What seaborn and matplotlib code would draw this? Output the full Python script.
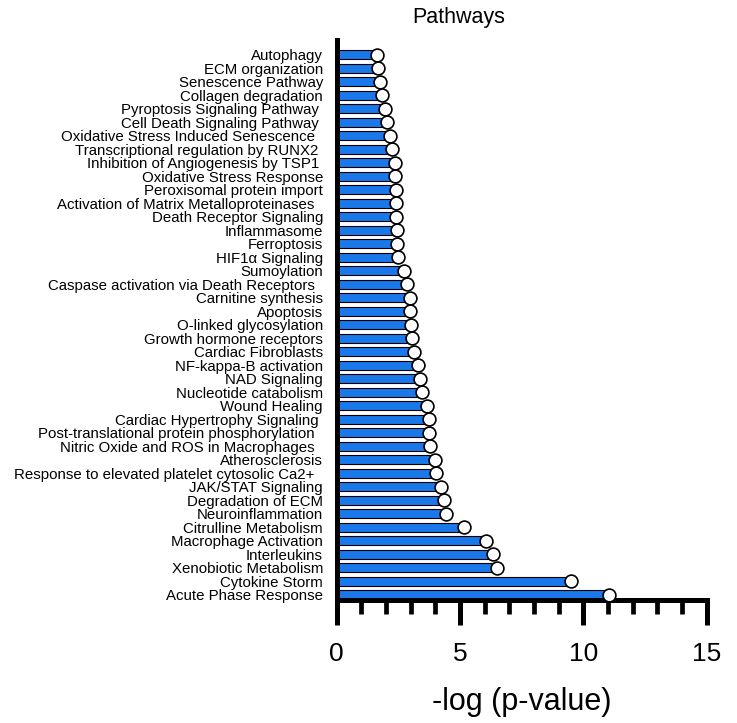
import pandas as pd
import matplotlib.pyplot as plt
from matplotlib.ticker import MultipleLocator
import seaborn as sns

# Pathways (oben nach unten) und -log(p-Werte)
pathways = [
    'Autophagy', 'ECM organization', 'Senescence Pathway', 'Collagen degradation',
    'Pyroptosis Signaling Pathway ', 'Cell Death Signaling Pathway ',
    'Oxidative Stress Induced Senescence  ', 'Transcriptional regulation by RUNX2 ',
    'Inhibition of Angiogenesis by TSP1 ', 'Oxidative Stress Response',
    'Peroxisomal protein import', 'Activation of Matrix Metalloproteinases  ',
    'Death Receptor Signaling', 'Inflammasome', 'Ferroptosis', 'HIF1α Signaling',
    'Sumoylation', 'Caspase activation via Death Receptors  ', 'Carnitine synthesis',
    'Apoptosis', 'O-linked glycosylation', 'Growth hormone receptors',
    'Cardiac Fibroblasts', 'NF-kappa-B activation', 'NAD Signaling',
    'Nucleotide catabolism', 'Wound Healing', 'Cardiac Hypertrophy Signaling ',
    'Post-translational protein phosphorylation  ', 'Nitric Oxide and ROS in Macrophages  ',
    'Atherosclerosis', 'Response to elevated platelet cytosolic Ca2+  ',
    'JAK/STAT Signaling', 'Degradation of ECM', 'Neuroinflammation',
    'Citrulline Metabolism', 'Macrophage Activation', 'Interleukins',
    'Xenobiotic Metabolism', 'Cytokine Storm', 'Acute Phase Response',
]
neg_log_p = [
    1.61, 1.65, 1.75, 1.84, 1.94, 2.05, 2.17, 2.22, 2.35, 2.35,
    2.39, 2.40, 2.39, 2.45, 2.45, 2.48, 2.74, 2.83, 2.96, 2.97,
    3.01, 3.04, 3.13, 3.30, 3.37, 3.46, 3.67, 3.74, 3.74, 3.79,
    3.97, 4.04, 4.22, 4.34, 4.42, 5.16, 6.04, 6.33, 6.49, 9.50,
    11.02,
]

df = pd.DataFrame({'pathway': pathways, 'value': neg_log_p})

sns.set_style('white')
plt.rcParams['font.family'] = ['Liberation Sans', 'DejaVu Sans']
plt.rcParams['text.color'] = 'black'
plt.rcParams['axes.labelcolor'] = 'black'
plt.rcParams['xtick.color'] = 'black'
plt.rcParams['ytick.color'] = 'black'

fig = plt.figure(figsize=(7.37, 7.23), dpi=100)
ax = fig.add_axes([0.457, 0.170, 0.502, 0.775])

sns.barplot(data=df, x='value', y='pathway', orient='h', color='#1a78ea',
            saturation=1, width=0.68, edgecolor='black', linewidth=0.8, ax=ax)
sns.scatterplot(data=df, x='value', y='pathway', s=85, color='white',
                edgecolor='black', linewidth=1.2, zorder=5, clip_on=False, ax=ax)

ax.set_xlim(0, 15)
ax.set_ylim(len(pathways) - 0.6, -1.1)
ax.xaxis.set_major_locator(MultipleLocator(5))
ax.xaxis.set_minor_locator(MultipleLocator(1))

for side in ['top', 'right']:
    ax.spines[side].set_visible(False)
ax.spines['left'].set_linewidth(3.6)
ax.spines['bottom'].set_linewidth(3.6)
ax.spines['left'].set_color('black')
ax.spines['bottom'].set_color('black')

ax.tick_params(axis='x', which='major', direction='out', length=18, width=3.6,
               labelsize=19, pad=12, bottom=True)
ax.tick_params(axis='x', which='minor', direction='out', length=10, width=3.4,
               bottom=True)
ax.tick_params(axis='y', length=0, labelsize=10.8, pad=10)

ax.set_xlabel('-log (p-value)', fontsize=22, labelpad=15)
ax.set_ylabel('')
ax.set_title('Pathways', fontsize=15.5, x=0.33, pad=12)

fig.savefig('out.png', dpi=100)
